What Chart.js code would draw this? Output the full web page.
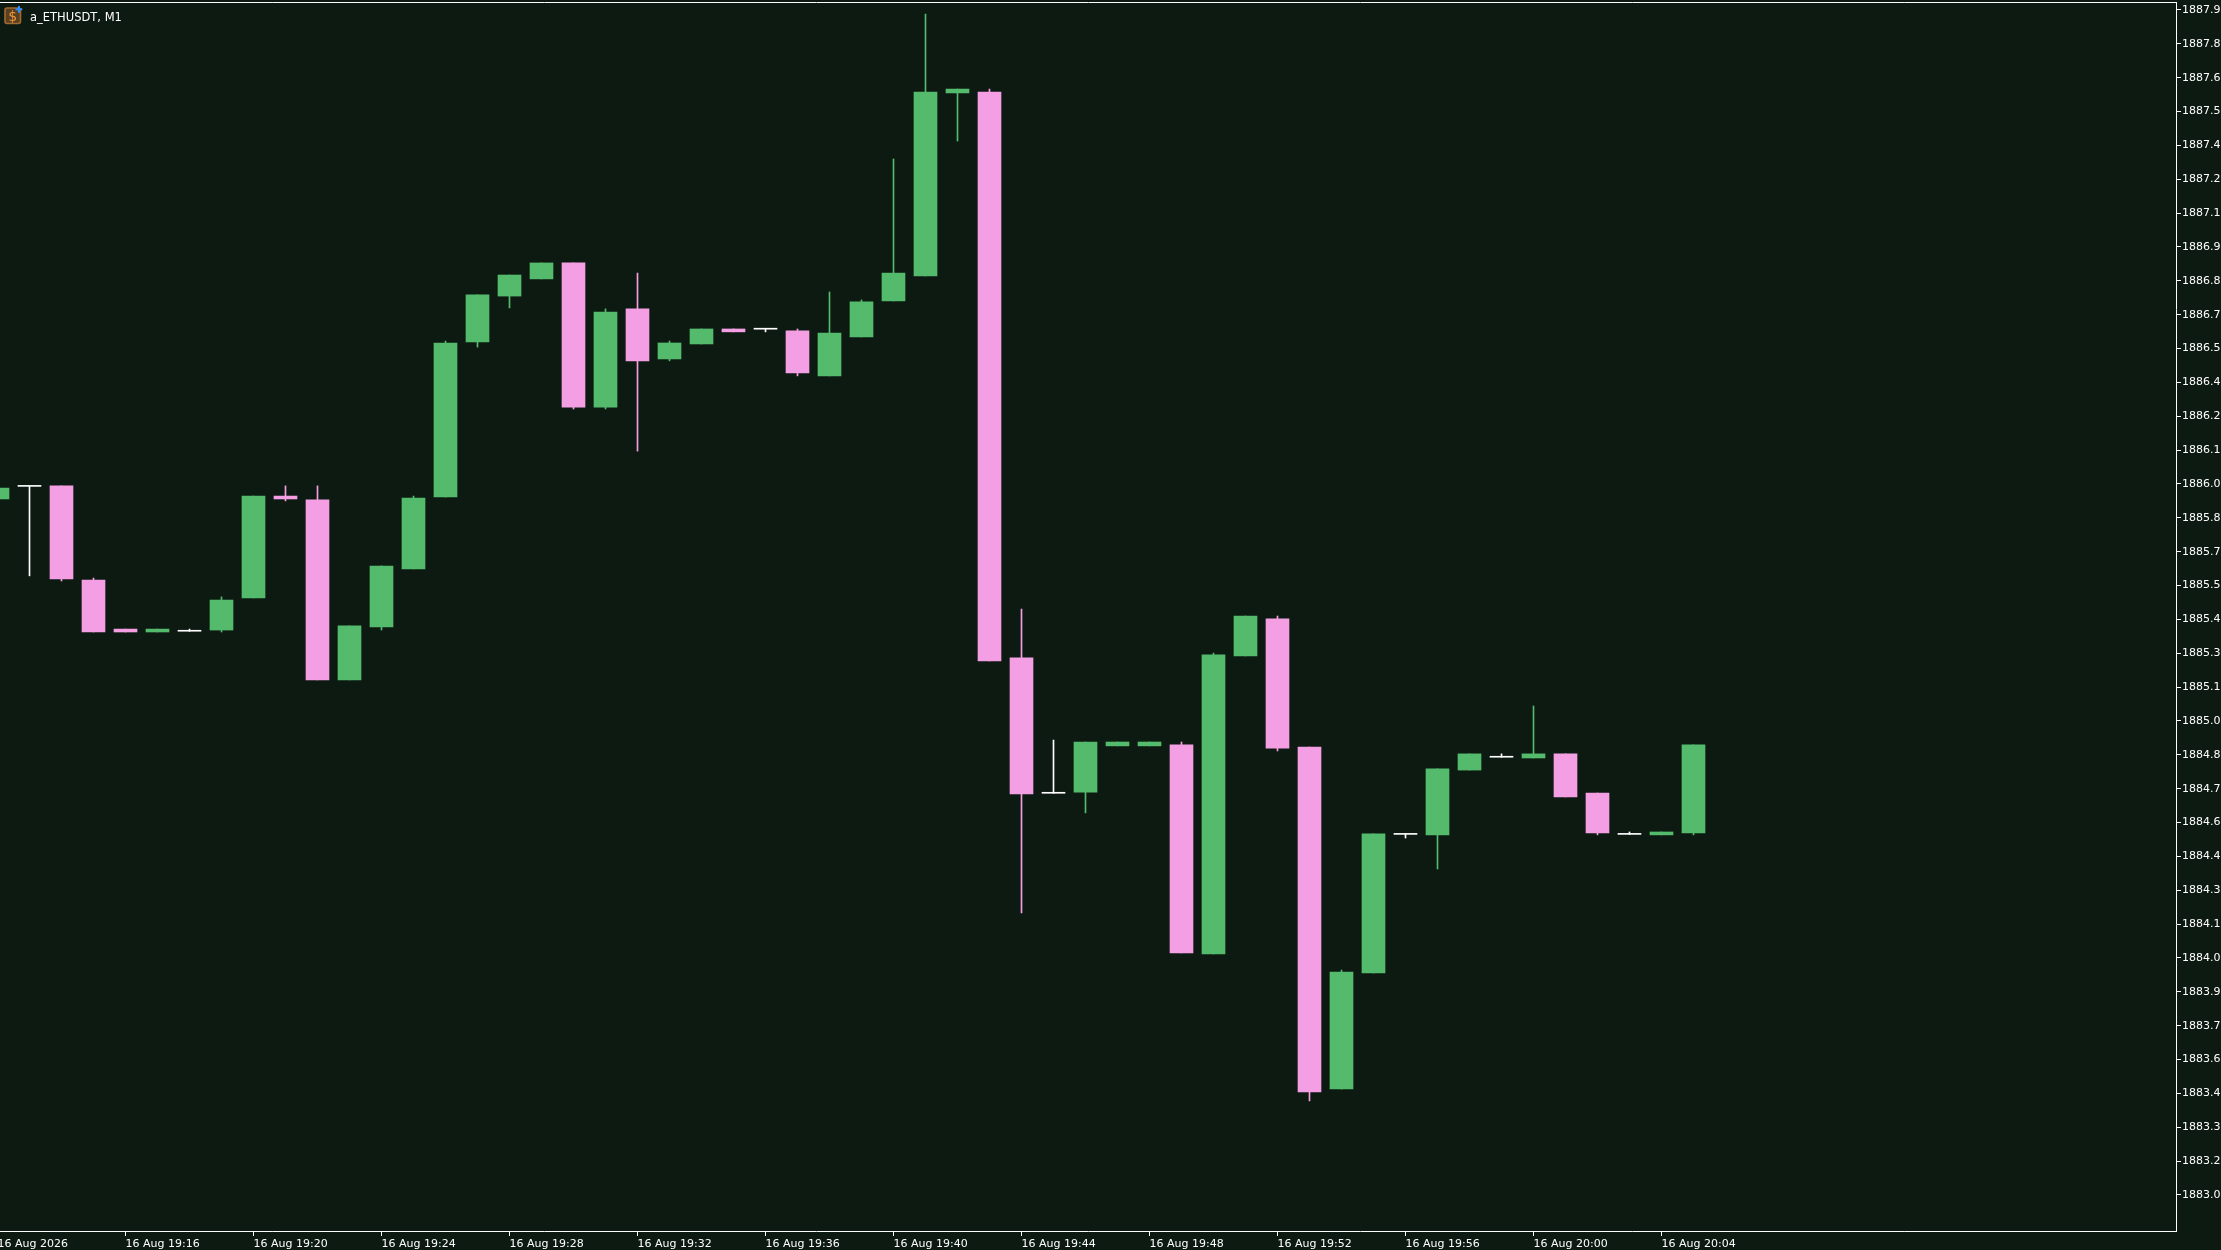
<!DOCTYPE html>
<html>
<head>
<meta charset="utf-8">
<title>a_ETHUSDT, M1</title>
<script src="https://cdn.jsdelivr.net/npm/chart.js@4/dist/chart.umd.min.js"></script>
<style>
  html, body { margin: 0; padding: 0; background: #0d1a12; overflow: hidden; }
  #wrap { position: relative; width: 2221px; height: 1250px; }
  canvas { display: block; }
  #title {
    position: absolute; left: 30px; top: 9px; color: #fff;
    font: 11.5px/16px "DejaVu Sans", sans-serif; white-space: nowrap;
  }
  #icon { position: absolute; left: 0; top: 0; }
</style>
</head>
<body>
<div id="wrap">
  <canvas id="chart" width="2221" height="1250"></canvas>
  <svg id="icon" width="26" height="28" viewBox="0 0 26 28">
    <rect x="5" y="8" width="15.5" height="15.5" rx="2" fill="#5a3f20" stroke="#a06a30" stroke-width="1.6"/>
    <text x="12.7" y="21" text-anchor="middle" font-family="DejaVu Sans" font-size="14" fill="#f0963a">$</text>
    <path d="M18 6h2v2.3h2.3v2H20v2.4h-2v-2.4h-2.4v-2H18z" fill="#2f8fff"/>
  </svg>
  <div id="title">a_ETHUSDT, M1</div>
</div>
<script>
// one minute candles, oldest first
const opens = [
  1885.878, 1885.930, 1885.932, 1885.543, 1885.340, 1885.328, 1885.331, 1885.336, 1885.469,
  1885.890, 1885.874, 1885.130, 1885.349, 1885.589, 1885.886, 1886.527, 1886.717, 1886.788,
  1886.854, 1886.258, 1886.664, 1886.457, 1886.519, 1886.581, 1886.580, 1886.573, 1886.387,
  1886.548, 1886.697, 1886.800, 1887.557, 1887.561, 1885.221, 1884.661, 1884.666, 1884.857,
  1884.857, 1884.861, 1883.997, 1885.229, 1885.382, 1884.852, 1883.438, 1883.918, 1884.491,
  1884.489, 1884.757, 1884.810, 1884.807, 1884.824, 1884.662, 1884.491, 1884.489, 1884.497,
];
const highs = [
  1885.923, 1885.932, 1885.932, 1885.551, 1885.340, 1885.340, 1885.340, 1885.473, 1885.890,
  1885.932, 1885.932, 1885.353, 1885.601, 1885.890, 1886.531, 1886.722, 1886.804, 1886.854,
  1886.854, 1886.664, 1886.812, 1886.531, 1886.581, 1886.581, 1886.580, 1886.581, 1886.734,
  1886.701, 1887.284, 1887.883, 1887.573, 1887.573, 1885.423, 1884.881, 1884.873, 1884.873,
  1884.873, 1884.873, 1885.241, 1885.394, 1885.394, 1884.852, 1883.930, 1884.493, 1884.493,
  1884.762, 1884.824, 1884.824, 1885.022, 1884.824, 1884.662, 1884.501, 1884.501, 1884.861,
];
const lows = [
  1885.878, 1885.560, 1885.539, 1885.328, 1885.328, 1885.328, 1885.331, 1885.328, 1885.469,
  1885.870, 1885.130, 1885.130, 1885.336, 1885.589, 1885.886, 1886.506, 1886.668, 1886.788,
  1886.250, 1886.250, 1886.076, 1886.449, 1886.519, 1886.569, 1886.569, 1886.387, 1886.387,
  1886.548, 1886.697, 1886.800, 1887.358, 1885.208, 1884.166, 1884.661, 1884.580, 1884.857,
  1884.857, 1884.001, 1883.997, 1885.229, 1884.836, 1883.389, 1883.438, 1883.918, 1884.476,
  1884.348, 1884.757, 1884.810, 1884.807, 1884.646, 1884.489, 1884.491, 1884.489, 1884.489,
];
const closes = [
  1885.923, 1885.930, 1885.547, 1885.328, 1885.328, 1885.340, 1885.331, 1885.460, 1885.890,
  1885.878, 1885.130, 1885.353, 1885.601, 1885.882, 1886.523, 1886.722, 1886.804, 1886.854,
  1886.258, 1886.651, 1886.449, 1886.523, 1886.581, 1886.569, 1886.580, 1886.399, 1886.564,
  1886.693, 1886.812, 1887.561, 1887.573, 1885.208, 1884.658, 1884.661, 1884.873, 1884.873,
  1884.873, 1884.001, 1885.233, 1885.394, 1884.848, 1883.426, 1883.922, 1884.493, 1884.491,
  1884.762, 1884.824, 1884.810, 1884.824, 1884.646, 1884.497, 1884.491, 1884.501, 1884.861,
];

const timeTicks = [0, 4, 8, 12, 16, 20, 24, 28, 32, 36, 40, 44, 48, 52];
const timeLabels = [
  "16 Aug 2026", "16 Aug 19:16", "16 Aug 19:20", "16 Aug 19:24", "16 Aug 19:28",
  "16 Aug 19:32", "16 Aug 19:36", "16 Aug 19:40", "16 Aug 19:44", "16 Aug 19:48",
  "16 Aug 19:52", "16 Aug 19:56", "16 Aug 20:00", "16 Aug 20:04",
];
const priceLabels = [
  "1887.9", "1887.8", "1887.6", "1887.5", "1887.4", "1887.2", "1887.1", "1886.9", "1886.8",
  "1886.7", "1886.5", "1886.4", "1886.2", "1886.1", "1886.0", "1885.8", "1885.7", "1885.5",
  "1885.4", "1885.3", "1885.1", "1885.0", "1884.8", "1884.7", "1884.6", "1884.4", "1884.3",
  "1884.1", "1884.0", "1883.9", "1883.7", "1883.6", "1883.4", "1883.3", "1883.2", "1883.0",
];

const UP = "#55bb6c";
const DOWN = "#f49fe4";
const FLAT = "#ffffff";
const AXIS = "#ffffff";

const candleColor = (i) => {
  if (closes[i] > opens[i]) return UP;
  if (closes[i] < opens[i]) return DOWN;
  return FLAT;
};

const colors = opens.map((_, i) => candleColor(i));
const wicks = opens.map((_, i) => ({ x: i, y: [lows[i], highs[i]] }));
const bodies = opens.map((_, i) => ({ x: i, y: [opens[i], closes[i]] }));

const xMin = 0.078125;
const xMax = 68.078125;
const tickFont = { family: "DejaVu Sans", size: 11 };

new Chart(document.getElementById("chart"), {
  type: "bar",
  data: {
    datasets: [
      { data: wicks, backgroundColor: colors, barThickness: 1, grouped: false, order: 2 },
      { data: bodies, backgroundColor: colors, barThickness: 23, minBarLength: 1, grouped: false, order: 1 },
    ],
  },
  options: {
    responsive: false,
    animation: false,
    events: [],
    layout: { autoPadding: false, padding: { top: 2 } },
    plugins: { legend: { display: false }, tooltip: { enabled: false } },
    scales: {
      x: {
        type: "linear",
        position: "bottom",
        offset: false,
        min: xMin,
        max: xMax,
        afterBuildTicks: (scale) => {
          scale.ticks = timeTicks.map((value) => ({ value }));
        },
        afterFit: (scale) => {
          scale.height = 19;
          scale.paddingLeft = 0;
          scale.paddingRight = 0;
        },
        ticks: {
          color: "#ffffff",
          font: tickFont,
          align: "start",
          autoSkip: false,
          maxRotation: 0,
          padding: 2,
          callback: (value, index) => timeLabels[index],
        },
        grid: { offset: false, drawOnChartArea: false, tickLength: 5, tickColor: AXIS },
        border: { color: AXIS, width: 1 },
      },
      top: {
        type: "linear",
        axis: "x",
        position: "top",
        offset: false,
        min: xMin,
        max: xMax,
        afterFit: (scale) => {
          scale.height = 0;
          scale.paddingLeft = 0;
          scale.paddingRight = 0;
        },
        ticks: { display: false },
        grid: { display: false },
        border: { color: AXIS, width: 1 },
      },
      y: {
        type: "linear",
        position: "right",
        min: 1882.851,
        max: 1887.933,
        afterBuildTicks: (scale) => {
          scale.ticks = priceLabels.map((_, i) => ({ value: 1887.9 - i * 0.14 }));
        },
        afterFit: (scale) => {
          scale.width = 45;
          scale.paddingTop = 0;
          scale.paddingBottom = 0;
        },
        ticks: {
          color: "#ffffff",
          font: tickFont,
          autoSkip: false,
          padding: 1,
          callback: (value, index) => priceLabels[index],
        },
        grid: { drawOnChartArea: false, tickLength: 5, tickColor: AXIS },
        border: { color: AXIS, width: 1 },
      },
    },
  },
});
</script>
</body>
</html>
